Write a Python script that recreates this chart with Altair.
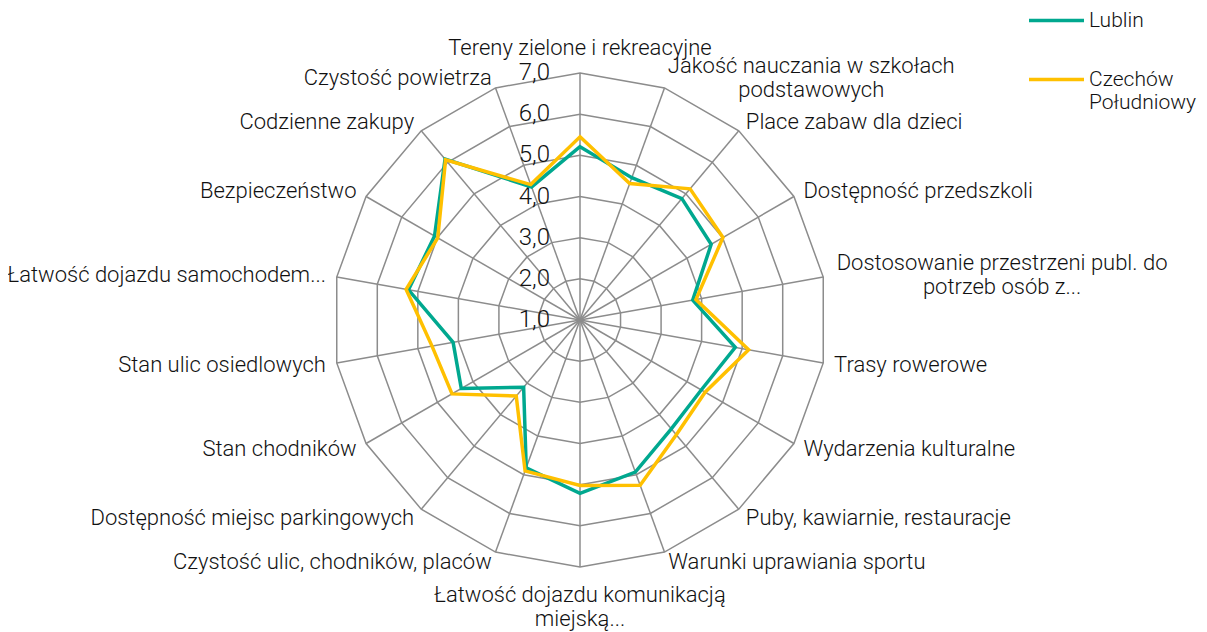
import math
import altair as alt
import pandas as pd

categories = [
    "Tereny zielone i rekreacyjne",
    "Jakość nauczania w szkołach\npodstawowych",
    "Place zabaw dla dzieci",
    "Dostępność przedszkoli",
    "Dostosowanie przestrzeni publ. do\npotrzeb osób z...",
    "Trasy rowerowe",
    "Wydarzenia kulturalne",
    "Puby, kawiarnie, restauracje",
    "Warunki uprawiania sportu",
    "Łatwość dojazdu komunikacją\nmiejską...",
    "Czystość ulic, chodników, placów",
    "Dostępność miejsc parkingowych",
    "Stan chodników",
    "Stan ulic osiedlowych",
    "Łatwość dojazdu samochodem...",
    "Bezpieczeństwo",
    "Codzienne zakupy",
    "Czystość powietrza",
]
lublin = [5.21, 4.68, 4.85, 4.68, 3.78, 4.83, 4.40, 4.45, 4.93,
          5.21, 4.82, 3.13, 4.33, 4.13, 5.23, 5.08, 6.10, 4.44]
czechow = [5.45, 4.53, 5.16, 5.01, 3.86, 5.16, 4.51, 4.64, 5.27,
           5.02, 4.90, 3.41, 4.59, 4.65, 5.29, 4.99, 6.08, 4.50]
series_names = ["Lublin", "Czechów Południowy"]
series_colors = ["#00A88F", "#FFC000"]
tick_values = [1, 2, 3, 4, 5, 6, 7]
tick_labels = ["1,0", "2,0", "3,0", "4,0", "5,0", "6,0", "7,0"]

FONT = "Roboto"
FW = 300
FS = 22
TXT = "#111111"
GRID = "#8c8c8c"

N = len(categories)
VMIN = min(tick_values)
RMAX = max(tick_values) - VMIN
K = 247 / RMAX          # pixels per value unit
W, H = 1190, 624
CX, CY = 572, 312
R_LAB = 258 / K

xs = alt.Scale(domain=[-CX / K, (W - CX) / K], nice=False, zero=False)
ys = alt.Scale(domain=[-(H - CY) / K, CY / K], nice=False, zero=False)

cat_df = pd.DataFrame({"idx": list(range(N)), "category": categories})
series_df = pd.concat(
    [pd.DataFrame({"idx": list(range(N)), "value": vals, "series": name})
     for name, vals in zip(series_names, [lublin, czechow])],
    ignore_index=True,
)
ring_df = pd.DataFrame(
    [(lvl, i) for lvl in tick_values[1:] for i in range(N)],
    columns=["level", "idx"],
)
tick_df = pd.DataFrame({"level": tick_values, "label": tick_labels})

ang = f"datum.idx * 2 * PI / {N}"

rings = (
    alt.Chart(ring_df)
    .transform_calculate(a=ang)
    .transform_calculate(
        x=f"(datum.level - {VMIN}) * sin(datum.a)",
        y=f"(datum.level - {VMIN}) * cos(datum.a)",
    )
    .mark_line(interpolate="linear-closed", stroke=GRID, strokeWidth=1.5)
    .encode(
        x=alt.X("x:Q", scale=xs, axis=None),
        y=alt.Y("y:Q", scale=ys, axis=None),
        detail="level:N",
        order="idx:Q",
    )
)

spokes = (
    alt.Chart(cat_df)
    .transform_calculate(a=ang)
    .transform_calculate(x=f"{RMAX} * sin(datum.a)", y=f"{RMAX} * cos(datum.a)")
    .mark_rule(stroke=GRID, strokeWidth=1.5)
    .encode(
        x=alt.X("x:Q", scale=xs, axis=None),
        y=alt.Y("y:Q", scale=ys, axis=None),
        x2=alt.datum(0),
        y2=alt.datum(0),
    )
)

ticks = (
    alt.Chart(tick_df)
    .transform_calculate(x="0", y=f"datum.level - {VMIN}")
    .mark_text(align="right", baseline="middle", dx=-30, font=FONT,
               fontWeight=FW, fontSize=FS + 2, color=TXT)
    .encode(
        x=alt.X("x:Q", scale=xs, axis=None),
        y=alt.Y("y:Q", scale=ys, axis=None),
        text="label:N",
    )
)

series = (
    alt.Chart(series_df)
    .transform_calculate(a=ang)
    .transform_calculate(
        x=f"(datum.value - {VMIN}) * sin(datum.a)",
        y=f"(datum.value - {VMIN}) * cos(datum.a)",
    )
    .mark_line(interpolate="linear-closed", strokeWidth=3.5)
    .encode(
        x=alt.X("x:Q", scale=xs, axis=None),
        y=alt.Y("y:Q", scale=ys, axis=None),
        color=alt.Color(
            "series:N",
            scale=alt.Scale(domain=series_names, range=series_colors),
            legend=alt.Legend(
                title=None, orient="none", legendX=1019, legendY=-17,
                symbolType="stroke", symbolSize=3025, symbolStrokeWidth=3.5,
                labelFont=FONT, labelFontWeight=FW, labelFontSize=FS - 1,
                labelColor=TXT, labelOffset=3, rowPadding=19, padding=0,
                labelExpr="split(datum.label, ' ')",
            ),
        ),
        order="idx:Q",
    )
)


def label_layer(filt, align, baseline, dx=0, dy=0):
    return (
        alt.Chart(cat_df)
        .transform_calculate(a=ang)
        .transform_calculate(
            x=f"{R_LAB} * sin(datum.a)", y=f"{R_LAB} * cos(datum.a)",
        )
        .transform_filter(filt)
        .mark_text(align=align, baseline=baseline, dx=dx, dy=dy, font=FONT,
                   fontWeight=FW, fontSize=FS, color=TXT, lineBreak="\n",
                   lineHeight=24)
        .encode(
            x=alt.X("x:Q", scale=xs, axis=None),
            y=alt.Y("y:Q", scale=ys, axis=None),
            text="category:N",
        )
    )


half = N // 2
lab_top = label_layer("datum.idx == 0", "center", "alphabetic", dy=-7)
lab_bottom = label_layer(f"datum.idx == {half}", "center", "top", dy=7)
lab_right = label_layer(
    f"datum.idx > 0 && datum.idx < {half} && indexof(datum.category, '\\n') < 0",
    "left", "middle")
lab_r1 = label_layer("datum.idx == 1", "center", "middle", dx=143, dy=-12)
lab_r4 = label_layer("datum.idx == 4", "center", "middle", dx=168, dy=-12)
lab_left = label_layer(f"datum.idx > {half}", "right", "middle")

chart = (
    alt.layer(rings, spokes, ticks, series, lab_top, lab_bottom, lab_right,
              lab_r1, lab_r4, lab_left)
    .properties(width=W, height=H, autosize=alt.AutoSizeParams(type="none"),
                padding=0, background="white")
    .configure_view(stroke=None)
)

chart.save("out.html", embed_options={"renderer": "svg", "actions": False})
